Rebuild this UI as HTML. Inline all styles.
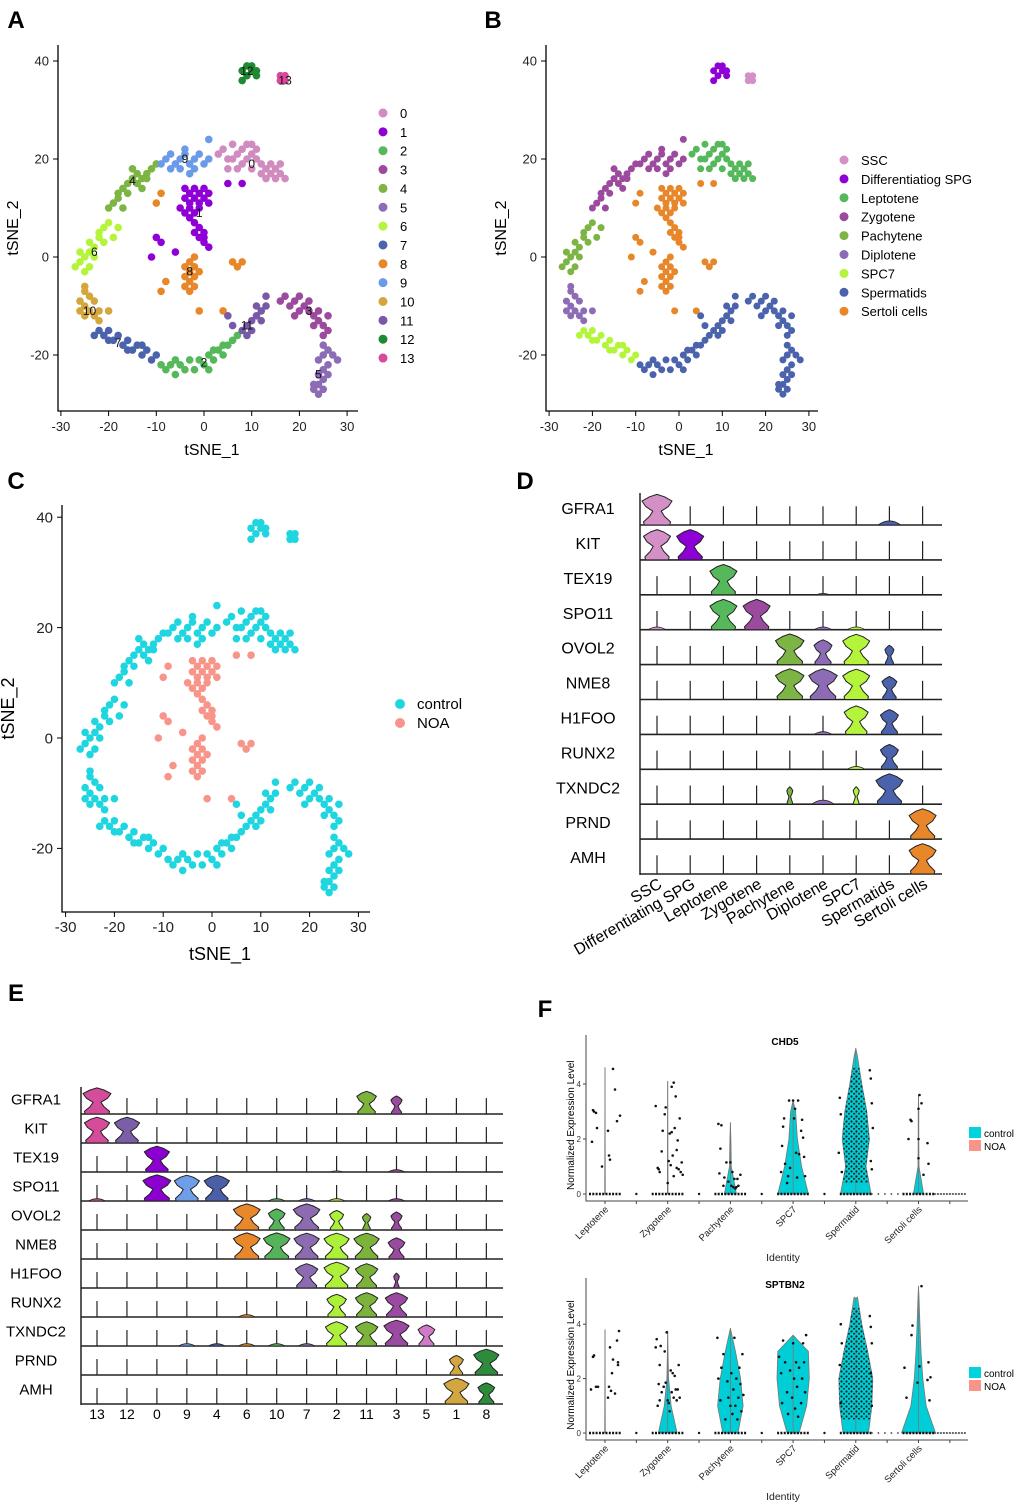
<!DOCTYPE html>
<html><head><meta charset="utf-8"><style>
html,body{margin:0;padding:0;background:#fff;}
svg{display:block;font-family:"Liberation Sans",Arial,sans-serif;}
</style></head><body>
<svg id="fig" width="1020" height="1507" viewBox="0 0 1020 1507" xmlns="http://www.w3.org/2000/svg">
<defs><pattern id="dots" width="5" height="5" patternUnits="userSpaceOnUse"><circle cx="1.5" cy="1.5" r="1.1" fill="#111"/><circle cx="4" cy="3.8" r="1" fill="#111"/></pattern></defs>
</svg>
<script>
// ---------- data ----------
const clusterIds=[0,1,2,3,4,5,6,7,8,9,10,11,12,13];
const c0=[[3,21],[4,22],[5,20],[6,23],[7,21],[8,22],[9,20],[10,21],[8,19],[10,18],[11,20],[12,19],[13,18],[14,17],[15,18],[16,17],[17,16],[16,19],[12,17],[11,22],[7,18],[5,18],[9,23],[13,16],[15,16],[6,20],[10,23],[14,19]];
const c1=[[-4,14],[-3,13],[-2,14],[-1,13],[0,14],[-4,12],[-3,11],[-2,12],[-1,11],[0,12],[-5,10],[-4,9],[-3,10],[-2,9],[-1,10],[1,11],[-2,7],[-1,6],[0,5],[-1,4],[0,3],[1,2],[0,4],[-2,5],[-10,4],[-9,3],[-6,1],[-11,0],[5,15],[8,15],[-3,8],[1,13]];
const c2=[[-8,-23],[-7,-22],[-6,-24],[-5,-22],[-4,-23],[-3,-21],[-2,-23],[-1,-21],[0,-22],[1,-20],[2,-21],[3,-19],[4,-20],[5,-18],[6,-17],[7,-16],[-6,-21],[1,-23],[4,-18],[2,-19],[-9,-22]];
const c3=[[16,-9],[17,-8],[18,-10],[19,-9],[20,-8],[21,-10],[22,-11],[23,-12],[24,-13],[25,-14],[26,-12],[24,-11],[22,-9],[20,-11],[26,-15],[25,-16],[19,-12],[23,-14]];
const c4=[[-10,19],[-11,18],[-12,17],[-13,16],[-14,17],[-15,16],[-16,15],[-17,14],[-18,12],[-19,11],[-16,13],[-14,15],[-12,16],[-18,13],[-20,10],[-17,10],[-13,14],[-15,18]];
const c5=[[25,-18],[26,-19],[25,-20],[24,-21],[26,-22],[25,-23],[24,-24],[25,-25],[24,-26],[23,-27],[24,-28],[25,-27],[27,-20],[28,-21],[23,-26],[26,-24]];
const c6=[[-20,7],[-21,6],[-22,5],[-22,4],[-23,2],[-24,1],[-25,0],[-26,-1],[-27,-2],[-25,-3],[-24,-2],[-23,0],[-21,3],[-19,4],[-18,6],[-26,1],[-24,3]];
const c7=[[-22,-15],[-21,-16],[-20,-15],[-19,-17],[-18,-16],[-17,-18],[-16,-17],[-15,-19],[-14,-18],[-13,-20],[-12,-19],[-11,-21],[-10,-20],[-20,-17],[-16,-19],[-13,-18],[-23,-16]];
const c8=[[-3,-1],[-2,-2],[-4,-2],[-3,-3],[-2,-4],[-4,-4],[-3,-5],[-2,-6],[-3,-7],[-4,-6],[-1,-3],[6,-1],[7,-2],[8,-1],[-9,-7],[-8,-5],[-10,11],[-9,13],[-1,-11],[4,-11],[-2,0]];
const c9=[[-9,19],[-8,20],[-7,21],[-6,19],[-5,20],[-4,21],[-3,19],[-2,20],[-1,21],[0,19],[-5,18],[-3,17],[-7,18],[1,20],[-4,22],[-2,18],[1,24]];
const c10=[[-25,-7],[-24,-8],[-26,-9],[-25,-10],[-24,-11],[-26,-11],[-23,-12],[-22,-11],[-22,-13],[-25,-12],[-20,-11],[-23,-9],[-25,-6]];
const c11=[[8,-15],[9,-14],[10,-13],[11,-12],[12,-11],[10,-15],[9,-16],[12,-13],[13,-10],[6,-14],[5,-12],[13,-8],[11,-10]];
const c12=[[8,38],[9,39],[10,38],[11,37],[9,37],[10,39],[8,36],[11,38]];
const c13=[[16,36],[17,36],[16,37],[17,37]];
const clusterPts=[c0,c1,c2,c3,c4,c5,c6,c7,c8,c9,c10,c11,c12,c13];
const clusterLabelPos=[[10,19],[-1,9],[0,-21.5],[22,-11],[-15,15.5],[24,-24],[-23,1],[-18,-17.5],[-3,-3],[-4,20],[-24,-11],[9,-14],[9,38],[17,36]];
const clusterColors=['#d08cbf','#8f00d6','#55b85a','#9b4a9e','#7db545','#8c6db5','#b4f53c','#4b63ad','#e8862a','#6a9ae8','#d3a73b','#7759a8','#1e8a32','#d9489c'];
const cellTypes=['SSC','Differentiatiog SPG','Leptotene','Zygotene','Pachytene','Diplotene','SPC7','Spermatids','Sertoli cells'];
const cellTypeColors=['#d48fc6','#8f00d6','#55b85a','#9b4a9e','#7db545','#8c6db5','#b4f53c','#4b63ad','#e8862a'];
const clusterToType=[2,8,7,7,3,7,4,6,8,3,5,7,1,0];
const conditions=['control','NOA'];
const conditionColors=['#1fd6e0','#f8958b'];
const clusterToCond=[0,1,0,0,0,0,0,0,1,0,0,0,0,0];
const tsneTicks=[-30,-20,-10,0,10,20,30];
const tsneYTicks=[-20,0,20,40];

const genes=['GFRA1','KIT','TEX19','SPO11','OVOL2','NME8','H1FOO','RUNX2','TXNDC2','PRND','AMH'];
const dCols=['SSC','Differentiating SPG','Leptotene','Zygotene','Pachytene','Diplotene','SPC7','Spermatids','Sertoli cells'];
const dMat=[[1,0,0,0,0,0,0,0.15,0],[0.9,0.9,0,0,0,0,0,0,0],[0,0,0.9,0,0,0.05,0,0,0],[0.1,0,0.9,0.9,0,0.1,0.1,0,0],[0,0,0,0,0.95,0.6,0.9,0.3,0],[0,0,0,0,0.95,0.95,0.9,0.5,0],[0,0,0,0,0,0.1,0.8,0.6,0],[0,0,0,0,0,0,0.1,0.6,0],[0,0,0,0,0.2,0.15,0.2,0.9,0],[0,0,0,0,0,0,0,0,0.9],[0,0,0,0,0,0,0,0,0.9]];
const eCols=['13','12','0','9','4','6','10','7','2','11','3','5','1','8'];
const eColors=['#d44c9a','#7b5ea7','#8b00d0','#6e9ee8','#4a5fa8','#e8882a','#55b45a','#8c6bb1','#adf03a','#7cb33a','#9a4aa0','#d07ac8','#d4a640','#2e8b3c'];
const eMat=[[1,0,0,0,0,0,0,0,0,0.7,0.4,0,0,0],[0.9,0.9,0,0,0,0,0,0,0,0,0,0,0,0],[0,0,0.9,0,0,0,0,0,0.05,0,0.1,0,0,0],[0.1,0,1,0.9,0.9,0,0.1,0.1,0.1,0,0.1,0,0,0],[0,0,0,0,0,0.95,0.6,0.95,0.5,0.3,0.4,0,0,0],[0,0,0,0,0,0.95,0.95,0.9,0.9,0.9,0.6,0,0,0],[0,0,0,0,0,0,0,0.8,0.9,0.8,0.2,0,0,0],[0,0,0,0,0,0.1,0,0,0.7,0.8,0.8,0,0,0],[0,0,0,0.1,0.1,0.1,0.1,0.1,0.8,0.8,0.9,0.6,0,0],[0,0,0,0,0,0,0,0,0,0,0,0,0.5,0.9],[0,0,0,0,0,0,0,0,0,0,0,0,0.9,0.6]];

const fCats=['Leptotene','Zygotene','Pachytene','SPC7','Spermatid','Sertoli cells'];
const fTicks=[0,2,4];
const chd5Max=[4.6,4.1,2.6,3.4,5.3,3.6];
const chd5Prof=[[0.02],[0.02],[0.35,0.05,0.03],[0.9,0.5,0.25,0.15],[0.9,0.6,0.8,0.65,0.35,0.1],[0.3,0.03,0.02,0.02]];
const chd5Pts=[[[-13,1.9],[-12,3.05],[-11,3.0],[-8,2.4],[-9,2.95],[-3,1.0],[3,2.3],[4,1.4],[5,1.25],[8,4.55],[10,3.8],[12,2.65],[15,2.85]],
[[-12,3.2],[-10,0.95],[-9,0.9],[-8,0.8],[-5,2.3],[-6,1.55],[-3,2.9],[-2,3.15],[0,0.4],[1,1.2],[2,2.2],[3,1.05],[4,2.25],[4,3.9],[5,1.4],[6,4.05],[6,0.65],[7,2.4],[8,3.55],[9,1.6],[9,0.95],[10,1.95],[11,0.9],[12,2.75],[13,0.8],[14,1.15],[15,0.7]],
[[-12,2.55],[-11,0.75],[-10,1.65],[-9,2.5],[-6,0.6],[-4,1.15],[-2,0.45],[0,1.15],[1,0.3],[2,0.8],[3,0.25],[4,0.55],[5,0.2],[6,0.25],[7,0.55],[8,0.3],[10,0.7],[-7,0.3]],
[[-12,0.8],[-11,1.75],[-10,2.45],[-9,2.75],[-8,1.1],[-6,0.4],[-5,0.65],[-3,0.95],[0,3.4],[1,2.75],[2,3.1],[3,1.5],[4,0.6],[6,1.45],[8,2.3],[9,2.7],[10,2.05],[12,0.65],[11,1.35],[-4,3.4],[5,3.4]],
[[-16,3.5],[-15,2.9],[-17,1.5],[14,4.5],[15,4.2],[16,3.3],[17,2.4],[15,1.2],[-14,0.8],[16,0.9]],
[[-10,2.0],[-8,2.7],[-7,2.65],[0,3.1],[0,2.0],[0,1.3],[1,3.6],[3,3.3],[5,0.7],[9,1.85],[10,1.1]]];
const chd5Dense=[0,0,0,0,[0.4,4.6,18],0];
const sptMax=[3.8,3.75,3.85,3.6,4.95,5.4];
const sptProf=[[0.02],[0.55,0.2,0.05,0.02],[0.45,0.75,0.6,0.3],[0.35,0.8,0.95,0.9],[0.75,0.95,1.0,0.7,0.35,0.1],[1.0,0.45,0.25,0.15,0.08,0.03]];
const sptPts=[[[-14,1.6],[-12,2.8],[-11,2.85],[-9,1.7],[-7,1.7],[3,1.3],[4,1.7],[5,3.15],[6,1.55],[7,2.2],[8,2.7],[10,1.45],[12,3.4],[13,2.6],[13,2.5],[14,3.75]],
[[-12,3.15],[-11,3.45],[-10,1.0],[-9,1.8],[-8,2.5],[-8,1.2],[-7,3.2],[-6,1.5],[-4,1.7],[-3,3.0],[-2,1.85],[-1,3.7],[0,1.2],[1,1.1],[2,0.8],[3,2.3],[4,1.5],[5,2.2],[6,1.3],[7,2.1],[8,1.6],[9,1.2],[10,1.6],[11,2.5],[12,1.3]],
[[-13,3.5],[-12,2.0],[-10,1.2],[-9,2.4],[-7,2.9],[-5,0.5],[-3,1.9],[-2,1.3],[0,1.0],[1,2.2],[2,0.7],[3,1.6],[4,3.5],[5,1.0],[6,2.0],[7,0.5],[8,1.3],[9,2.4],[10,1.8],[12,2.9],[13,1.4],[11,0.8]],
[[-14,2.8],[-12,2.2],[-11,1.1],[-10,3.4],[-8,2.6],[-6,1.5],[-5,0.7],[-3,2.3],[-1,1.3],[0,3.3],[1,2.0],[2,0.9],[3,2.6],[4,1.7],[5,0.6],[6,2.4],[8,1.1],[9,2.0],[10,3.3],[11,2.6],[12,1.5],[13,3.6]],
[[-15,4.0],[-14,3.3],[-16,2.5],[14,4.3],[15,3.9],[16,3.3],[15,2.2],[-15,1.1],[16,1.0]],
[[-14,2.4],[-12,1.3],[-7,3.6],[-6,3.95],[-1,1.85],[1,2.45],[3,5.4],[9,1.95],[10,2.6],[11,1.2],[12,2.05]]];
const sptDense=[0,0,0,0,[0.5,4.6,18],0];

// ---------- helpers ----------
const NS='http://www.w3.org/2000/svg';
const svg=document.getElementById('fig');
const defs=svg.querySelector('defs');
function mk(tag,at,par){const e=document.createElementNS(NS,tag);for(const k in at)e.setAttribute(k,at[k]);(par||svg).appendChild(e);return e;}
function tx(x,y,s,at,par){const e=mk('text',Object.assign({x:x,y:y},at||{}),par);e.textContent=s;return e;}

function panelLetter(x,y,s){
  const t=tx(x,y,s,{'font-size':24,'font-weight':'bold','text-anchor':'middle'});
  
  
}
panelLetter(16,28,'A');panelLetter(493,28,'B');panelLetter(16,489,'C');panelLetter(525,489,'D');panelLetter(16,1001,'E');panelLetter(545,1017,'F');

// ---------- tSNE scatter panels ----------
function scatter(p){
  const g=mk('g',{});
  
  
  const sx=u=>p.x0+p.kx*u, sy=v=>p.y0-p.ky*v;
  const ax=mk('path',{d:`M${p.L},${p.T}V${p.B}H${p.R}`,stroke:'#000','stroke-width':1.3,fill:'none'},g);
  
  
  tsneTicks.forEach(t=>{
    const l=mk('line',{x1:sx(t),x2:sx(t),y1:p.B,y2:p.B+5,stroke:'#000'},g);
    
    
    const s=tx(sx(t),p.B+20,String(t),{'font-size':p.fs,'text-anchor':'middle',fill:'#222'},g);
    
    
  });
  tsneYTicks.forEach(t=>{
    const l=mk('line',{x1:p.L-5,x2:p.L,y1:sy(t),y2:sy(t),stroke:'#000'},g);
    
    
    const s=tx(p.L-9,sy(t)+p.fs*0.35,String(t),{'font-size':p.fs,'text-anchor':'end',fill:'#222'},g);
    
    
  });
  const xt=tx((p.L+p.R)/2+4,p.B+p.xtOff,'tSNE_1',{'font-size':p.fs+3,'text-anchor':'middle'},g);
  
  
  const yc=(p.T+p.B)/2;
  const yt=tx(p.ytX,yc,'tSNE_2',{'font-size':p.fs+3,'text-anchor':'middle',transform:`rotate(-90 ${p.ytX} ${yc})`},g);
  
  
  const order=p.order||clusterIds;
  order.forEach(c=>{
    clusterPts[c].forEach(pt=>{
      const d=mk('circle',{cx:sx(pt[0]),cy:sy(pt[1]),r:p.r,fill:p.col(c)},g);
      
      
    });
  });
  if(p.labels){clusterIds.forEach(c=>{
    const s=tx(sx(clusterLabelPos[c][0]),sy(clusterLabelPos[c][1])+4,String(c),{'font-size':12,'text-anchor':'middle',fill:'#111'},g);
    
    
  });}
  p.legend.names.forEach((n,i)=>{
    const y=p.legend.y+i*p.legend.dy;
    const c=mk('circle',{cx:p.legend.x,cy:y,r:p.legend.r,fill:p.legend.colors[i]},g);
    
    
    const s=tx(p.legend.x+17,y+5,n,{'font-size':p.legend.fs},g);
    
    
  });
}
scatter({name:'panel-a-tsne-clusters',x0:204,kx:4.77,y0:257,ky:4.9,L:58,R:358,T:45,B:411,fs:13,xtOff:44,ytX:18,r:3.8,
  col:c=>clusterColors[c],labels:true,
  legend:{names:clusterIds.map(String),colors:clusterColors,x:383,y:113,dy:18.85,r:4.5,fs:13}});
scatter({name:'panel-b-tsne-celltypes',x0:679,kx:4.33,y0:257,ky:4.9,L:546,R:818,T:45,B:411,fs:13,xtOff:44,ytX:506,r:3.5,
  col:c=>cellTypeColors[clusterToType[c]],
  legend:{names:cellTypes,colors:cellTypeColors,x:844,y:160,dy:18.9,r:4.5,fs:13}});
scatter({name:'panel-c-tsne-condition',x0:212,kx:4.88,y0:738,ky:5.52,L:62,R:370,T:505,B:912,fs:15,xtOff:48,ytX:14,r:3.8,
  col:c=>conditionColors[clusterToCond[c]],order:[0,2,3,4,5,6,7,9,10,11,12,13,1,8],
  legend:{names:conditions,colors:conditionColors,x:400,y:704,dy:19,r:5,fs:15}});

// ---------- stacked violins ----------
const vf=[0,0.1,0.28,0.45,0.6,0.78,0.92,1], vw=[0.85,0.9,0.5,0.28,0.75,1,0.5,0];
function stacked(o){
  const g=mk('g',{});
  
  
  const ax=mk('line',{x1:o.L,x2:o.L,y1:o.base(0)-o.H+2,y2:o.base(genes.length-1)+1,stroke:'#000','stroke-width':1.3},g);
  
  
  genes.forEach((gn,j)=>{
    const b=o.base(j);
    const ln=mk('line',{x1:o.L,x2:o.R,y1:b,y2:b,stroke:'#222','stroke-width':1.6},g);
    
    
    const lb=tx(o.labX,b-o.H*0.32,gn,{'font-size':o.fs,'text-anchor':'middle'},g);
    
    
    o.cols.forEach((c,i)=>{
      const v=o.mat[j][i], x=o.colX(i);
      if(v>=0.2){
        const h=o.H*0.9*Math.min(1,0.45+0.6*v), w=o.W*v;
        let pts=vf.map((f,k)=>[x+w*vw[k],b-h*f]);
        let lpts=vf.slice().reverse().map((f,k)=>[x-w*vw[vf.length-1-k],b-h*f]);
        const d='M'+pts.concat(lpts).map(q=>q[0].toFixed(1)+','+q[1].toFixed(1)).join('L')+'Z';
        const p=mk('path',{d:d,fill:o.colors[i],stroke:'#222','stroke-width':1,'stroke-linejoin':'round'},g);
        
        
      } else {
        const sp=mk('line',{x1:x,x2:x,y1:b,y2:b-o.H*0.55,stroke:'#222','stroke-width':1.2},g);
        
        
        if(v>0){
          const bw=o.W*(0.3+v*3);
          const bp=mk('path',{d:`M${x-bw},${b}Q${x},${b-o.H*v*1.6} ${x+bw},${b}Z`,fill:o.colors[i],stroke:'#222','stroke-width':0.8},g);
          
          
        }
      }
    });
  });
  o.cols.forEach((c,i)=>{
    const x=o.colX(i);
    const t=o.rot?tx(x+6,o.labY,c,{'font-size':o.cfs,'text-anchor':'end',transform:`rotate(-30 ${x+6} ${o.labY})`},g)
                 :tx(x,o.labY,c,{'font-size':o.cfs,'text-anchor':'middle'},g);
    
    
  });
}
stacked({name:'panel-d-stacked-violin',cols:dCols,mat:dMat,colors:cellTypeColors,L:640,R:942,colX:i=>657+33.2*i,base:j=>525+34.9*j,H:34,W:15,labX:588,fs:16,rot:true,labY:887,cfs:16});
stacked({name:'panel-e-stacked-violin',cols:eCols,mat:eMat,colors:eColors,L:81,R:503,colX:i=>97+29.95*i,base:j=>1114+29*j,H:29,W:14,labX:36,fs:15,rot:false,labY:1419,cfs:14});

// ---------- panel F violins ----------
let clipN=0;
function fPlot(o){
  const g=mk('g',{});
  
  
  const slot=i=>605+31.35*i, sy=v=>o.y0-o.ppu*v;
  const ax=mk('path',{d:`M586,${o.top}V${o.y0+7}H968`,stroke:'#444','stroke-width':1,fill:'none'},g);
  
  
  fTicks.forEach(t=>{
    const l=mk('line',{x1:583,x2:586,y1:sy(t),y2:sy(t),stroke:'#444'},g);
    
    
    const s=tx(581,sy(t)+3,String(t),{'font-size':8,'text-anchor':'end',fill:'#333'},g);
    
    
  });
  for(let i=0;i<12;i++){
    const l=mk('line',{x1:slot(i),x2:slot(i),y1:o.y0+7,y2:o.y0+10,stroke:'#444'},g);
    
    
  }
  const ymid=sy(2.5);
  const yl=tx(574,ymid,'Normalized Expression Level',{'font-size':10,'text-anchor':'middle',transform:`rotate(-90 574 ${ymid})`},g);
  
  
  const ti=tx(785,o.top+10,o.title,{'font-size':10,'font-weight':'bold','text-anchor':'middle'},g);
  
  
  const id=tx(783,o.y0+67,'Identity',{'font-size':10.5,'text-anchor':'middle',fill:'#222'},g);
  
  
  fCats.forEach((c,i)=>{
    const x=slot(2*i);
    const cl=tx(x+4,o.y0+16,c,{'font-size':9.5,'text-anchor':'end',fill:'#222',transform:`rotate(-45 ${x+4} ${o.y0+16})`},g);
    
    
    const prof=o.prof[i], W=17, mx=o.max[i];
    const right=prof.map((w,k)=>[x+W*w,sy(k)]); right.push([x,sy(mx)]);
    const left=prof.map((w,k)=>[x-W*w,sy(k)]).reverse();
    const d='M'+right.concat(left).map(q=>q[0].toFixed(1)+','+q[1].toFixed(1)).join('L')+'Z';
    const vl=mk('path',{d:d,fill:'#00ced6',stroke:'#777','stroke-width':0.8,'stroke-linejoin':'round'},g);
    
    
    const cline=mk('line',{x1:x,x2:x,y1:o.y0,y2:sy(mx),stroke:'#777','stroke-width':0.8},g);
    
    
    const dn=o.dense[i];
    if(dn){
      const id='vclip'+(clipN++);
      const cp=mk('clipPath',{id:id},defs);
      mk('path',{d:d},cp);
      const r=mk('rect',{x:x-dn[2],y:sy(dn[1]),width:dn[2]*2,height:o.ppu*(dn[1]-dn[0]),fill:'url(#dots)',opacity:0.9,'clip-path':`url(#${id})`},g);
      
      
    }
    const zr=mk('line',{x1:x-16,x2:x+16,y1:o.y0,y2:o.y0,stroke:'#111','stroke-width':2.4,'stroke-dasharray':'2 1.3'},g);
    
    
    o.pts[i].forEach(pt=>{
      const c2=mk('circle',{cx:x+pt[0],cy:sy(pt[1]),r:1.3,fill:'#111'},g);
      
      
    });
    const nx=slot(2*i+1);
    if(i>=4){
      const nl=mk('line',{x1:nx-16,x2:nx+16,y1:o.y0,y2:o.y0,stroke:'#555','stroke-width':1.8,'stroke-dasharray':i==5?'2 1':'1.5 5'},g);
      
      
    } else {
      const nc=mk('circle',{cx:nx,cy:o.y0,r:1.2,fill:'#111'},g);
      
      
    }
  });
  conditions.forEach((c,i)=>{
    const r=mk('rect',{x:969,y:o.legY+i*13-6,width:12,height:11,fill:i===0?'#00d3dc':'#f8958b'},g);
    
    
    const s=tx(984,o.legY+i*13+4,c,{'font-size':10},g);
    
    
  });
}
fPlot({name:'panel-f-chd5',title:'CHD5',top:1035,y0:1194,ppu:27.5,max:chd5Max,prof:chd5Prof,pts:chd5Pts,dense:chd5Dense,legY:1133});
fPlot({name:'panel-f-sptbn2',title:'SPTBN2',top:1278,y0:1433,ppu:27.2,max:sptMax,prof:sptProf,pts:sptPts,dense:sptDense,legY:1373});
</script>
</body></html>
